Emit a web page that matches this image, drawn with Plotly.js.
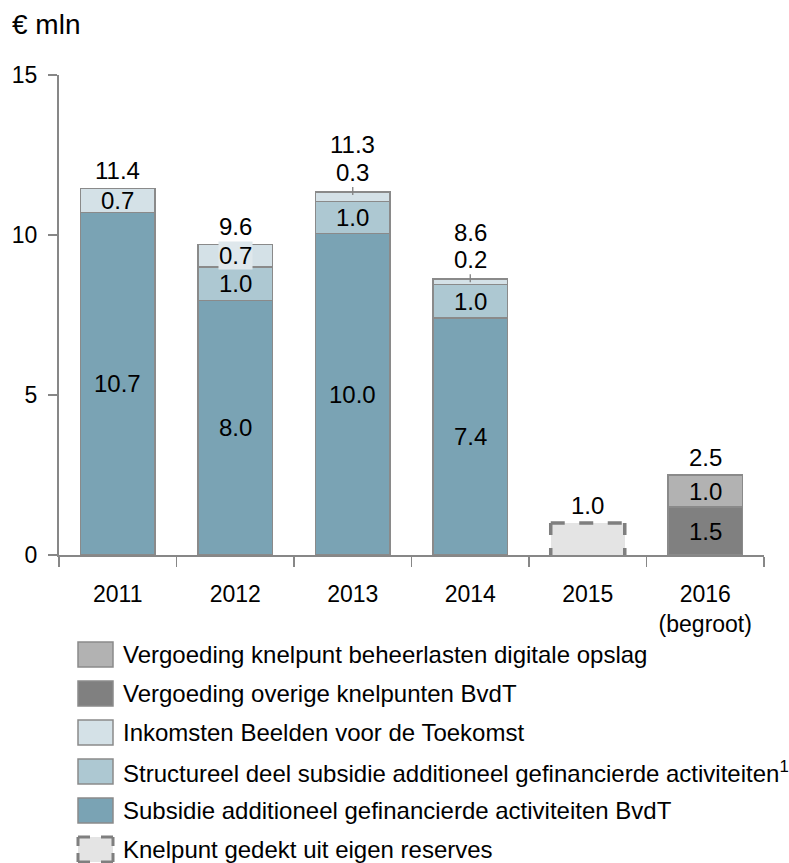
<!DOCTYPE html>
<html>
<head>
<meta charset="utf-8">
<script src="https://cdn.plot.ly/plotly-3.0.1.min.js"></script>
<style>html,body{margin:0;padding:0;background:#fff;}#chart{width:789px;height:863px;}</style>
</head>
<body>
<div id="chart"></div>
<script>
// ---- data ----
const categories = ['2011', '2012', '2013', '2014', '2015', '2016<br>(begroot)'];
const subsidie      = [10.7, 7.95, 10.05, 7.4, null, null];
const structureel   = [null, 1.05, 1.0, 1.05, null, null];
const inkomsten     = [0.75, 0.7, 0.3, 0.17, null, null];
const reserves      = [null, null, null, null, 1.0, null];
const overige       = [null, null, null, null, null, 1.5];
const beheerlasten  = [null, null, null, null, null, 1.0];

const subsidieLabels    = ['10.7', '8.0', '10.0', '7.4', '', ''];
const structureelLabels = ['', '1.0', '1.0', '1.0', '', ''];
const inkomstenLabels   = ['0.7', '0.7', '0.3', '0.2', '', ''];
const reservesLabels    = ['', '', '', '', '', ''];
const overigeLabels     = ['', '', '', '', '', '1.5'];
const beheerLabels      = ['', '', '', '', '', '1.0'];
const totalLabels       = ['11.4', '9.6', '11.3', '8.6', '1.0', '2.5'];
const yTickValues       = [0, 5, 10, 15];

const names = {
  beheer: 'Vergoeding knelpunt beheerlasten digitale opslag',
  overige: 'Vergoeding overige knelpunten BvdT',
  inkomsten: 'Inkomsten Beelden voor de Toekomst',
  structureel: 'Structureel deel subsidie additioneel gefinancierde activiteiten<sup>1</sup>',
  subsidie: 'Subsidie additioneel gefinancierde activiteiten BvdT',
  reserves: 'Knelpunt gedekt uit eigen reserves'
};

// ---- styling ----
const FONT = 'Arial, "Liberation Sans", sans-serif';
const BORDER = '#8a8a8a';
const series = [
  {key: 'subsidie', values: subsidie, labels: subsidieLabels, color: '#7aa3b4'},
  {key: 'structureel', values: structureel, labels: structureelLabels, color: '#adc8d2'},
  {key: 'inkomsten', values: inkomsten, labels: inkomstenLabels, color: '#d4e1e7'},
  {key: 'reserves', values: reserves, labels: reservesLabels, color: '#e4e4e4', dashed: true},
  {key: 'overige', values: overige, labels: overigeLabels, color: '#808080'},
  {key: 'beheer', values: beheerlasten, labels: beheerLabels, color: '#b2b2b2'}
];
const BARW = 0.63;
const PX_PER_UNIT = 480 / 15;
const LBL = 24;

const traces = series.map(s => ({
  type: 'bar',
  name: names[s.key],
  x: categories,
  y: s.values,
  marker: {color: s.color, line: {color: s.dashed ? 'rgba(0,0,0,0)' : BORDER, width: s.dashed ? 0 : 1.5}},
  hoverinfo: 'skip',
  showlegend: false
}));

const annotations = [];
const shapes = [];

// segment labels and totals
categories.forEach((c, i) => {
  let base = 0;
  let lastSeries = null;
  series.forEach(s => {
    const v = s.values[i];
    if (v == null) return;
    const lab = s.labels[i];
    const hpx = v * PX_PER_UNIT;
    if (lab && hpx >= 18) {
      const a = {x: i, y: base + v / 2, xref: 'x', yref: 'y', text: lab, showarrow: false,
        font: {family: FONT, size: LBL, color: '#000'}, yanchor: 'middle'};
      if (hpx < 24) { a.bgcolor = '#dfe8ec'; a.borderpad = 0; }
      annotations.push(a);
    }
    lastSeries = {s, v, base, lab, hpx};
    base += v;
  });
  const total = base;
  let totalShift = 18;
  if (lastSeries && lastSeries.lab && lastSeries.hpx < 18) {
    annotations.push({x: i, y: total - 0.1, xref: 'x', yref: 'y', text: lastSeries.lab,
      showarrow: true, arrowhead: 0, arrowwidth: 1.3, arrowcolor: '#808080', ax: 0, ay: -23,
      standoff: 0, font: {family: FONT, size: LBL, color: '#000'}});
    totalShift = 47;
  }
  annotations.push({x: i, y: total, xref: 'x', yref: 'y', text: totalLabels[i], showarrow: false,
    yshift: totalShift, yanchor: 'middle', font: {family: FONT, size: LBL, color: '#000'}});
});

// dashed outline for the "reserves" bar
const DASHC = '#7f7f7f';
reserves.forEach((v, i) => {
  if (v == null) return;
  const x0 = i - BARW / 2, x1 = i + BARW / 2;
  shapes.push({type: 'line', xref: 'x', yref: 'y', x0: x0, x1: x0, y0: v, y1: 0, line: {color: DASHC, width: 3.5, dash: '12px,13px'}});
  shapes.push({type: 'line', xref: 'x', yref: 'y', x0: x1, x1: x1, y0: v, y1: 0, line: {color: DASHC, width: 3.5, dash: '12px,13px'}});
  shapes.push({type: 'line', xref: 'x', yref: 'y', x0: x0, x1: x1, y0: v, y1: v, line: {color: DASHC, width: 3.5, dash: '14px,14.5px'}});
});

// custom legend
const M = {l: 59, r: 25, t: 75, b: 308};
const PW = 789 - M.l - M.r, PH = 863 - M.t - M.b;
const px2x = px => (px - M.l) / PW;
const py2y = py => (863 - M.b - py) / PH;
const legendOrder = ['beheer', 'overige', 'inkomsten', 'structureel', 'subsidie', 'reserves'];
legendOrder.forEach((k, r) => {
  const s = series.find(q => q.key === k);
  const cy = 654.5 + 39 * r;
  const sx0 = px2x(78), sx1 = px2x(113), sy0 = py2y(cy + 12.5), sy1 = py2y(cy - 12.5);
  if (s.dashed) {
    shapes.push({type: 'rect', xref: 'paper', yref: 'paper', x0: sx0, x1: sx1, y0: sy0, y1: sy1,
      fillcolor: s.color, line: {width: 0}});
    shapes.push({type: 'line', xref: 'paper', yref: 'paper', x0: sx0, x1: sx1, y0: sy1, y1: sy1, line: {color: DASHC, width: 3, dash: '12px,11px'}});
    shapes.push({type: 'line', xref: 'paper', yref: 'paper', x0: sx0, x1: sx1, y0: sy0, y1: sy0, line: {color: DASHC, width: 3, dash: '12px,11px'}});
    shapes.push({type: 'line', xref: 'paper', yref: 'paper', x0: sx0, x1: sx0, y0: sy1, y1: sy0, line: {color: DASHC, width: 3, dash: '9px,7px'}});
    shapes.push({type: 'line', xref: 'paper', yref: 'paper', x0: sx1, x1: sx1, y0: sy1, y1: sy0, line: {color: DASHC, width: 3, dash: '9px,7px'}});
  } else {
    shapes.push({type: 'rect', xref: 'paper', yref: 'paper', x0: sx0, x1: sx1, y0: sy0, y1: sy1,
      fillcolor: s.color, line: {color: BORDER, width: 1.5}});
  }
  annotations.push({xref: 'paper', yref: 'paper', x: px2x(121), y: py2y(cy), xanchor: 'left', yanchor: 'middle',
    text: names[k], showarrow: false, font: {family: FONT, size: 24, color: '#000'}});
});

const layout = {
  width: 789, height: 863,
  margin: M,
  paper_bgcolor: '#fff', plot_bgcolor: '#fff',
  barmode: 'stack',
  bargap: 1 - BARW,
  showlegend: false,
  font: {family: FONT, size: 23, color: '#000'},
  title: {text: '€ mln', xref: 'container', yref: 'container', x: 12 / 789, xanchor: 'left',
    y: 1 - 24 / 863, yanchor: 'middle', font: {family: FONT, size: 28, color: '#000'}},
  xaxis: {
    type: 'category', range: [-0.5, 5.5], tickson: 'boundaries',
    ticks: 'outside', ticklen: 10, tickwidth: 1.5, tickcolor: '#878787',
    showline: true, linecolor: '#878787', linewidth: 2,
    showgrid: false, zeroline: false, fixedrange: true,
    tickfont: {family: FONT, size: 23, color: '#000'}, ticklabelstandoff: 17
  },
  yaxis: {
    range: [0, 15], tickvals: yTickValues, ticktext: yTickValues.map(String),
    ticks: 'outside', ticklen: 9, tickwidth: 1.5, tickcolor: '#878787',
    showline: true, linecolor: '#878787', linewidth: 2,
    showgrid: false, zeroline: false, fixedrange: true,
    tickfont: {family: FONT, size: 23, color: '#000'}, ticklabelstandoff: 6
  },
  annotations: annotations,
  shapes: shapes
};

Plotly.newPlot('chart', traces, layout, {displayModeBar: false, staticPlot: true});
</script>
</body>
</html>
